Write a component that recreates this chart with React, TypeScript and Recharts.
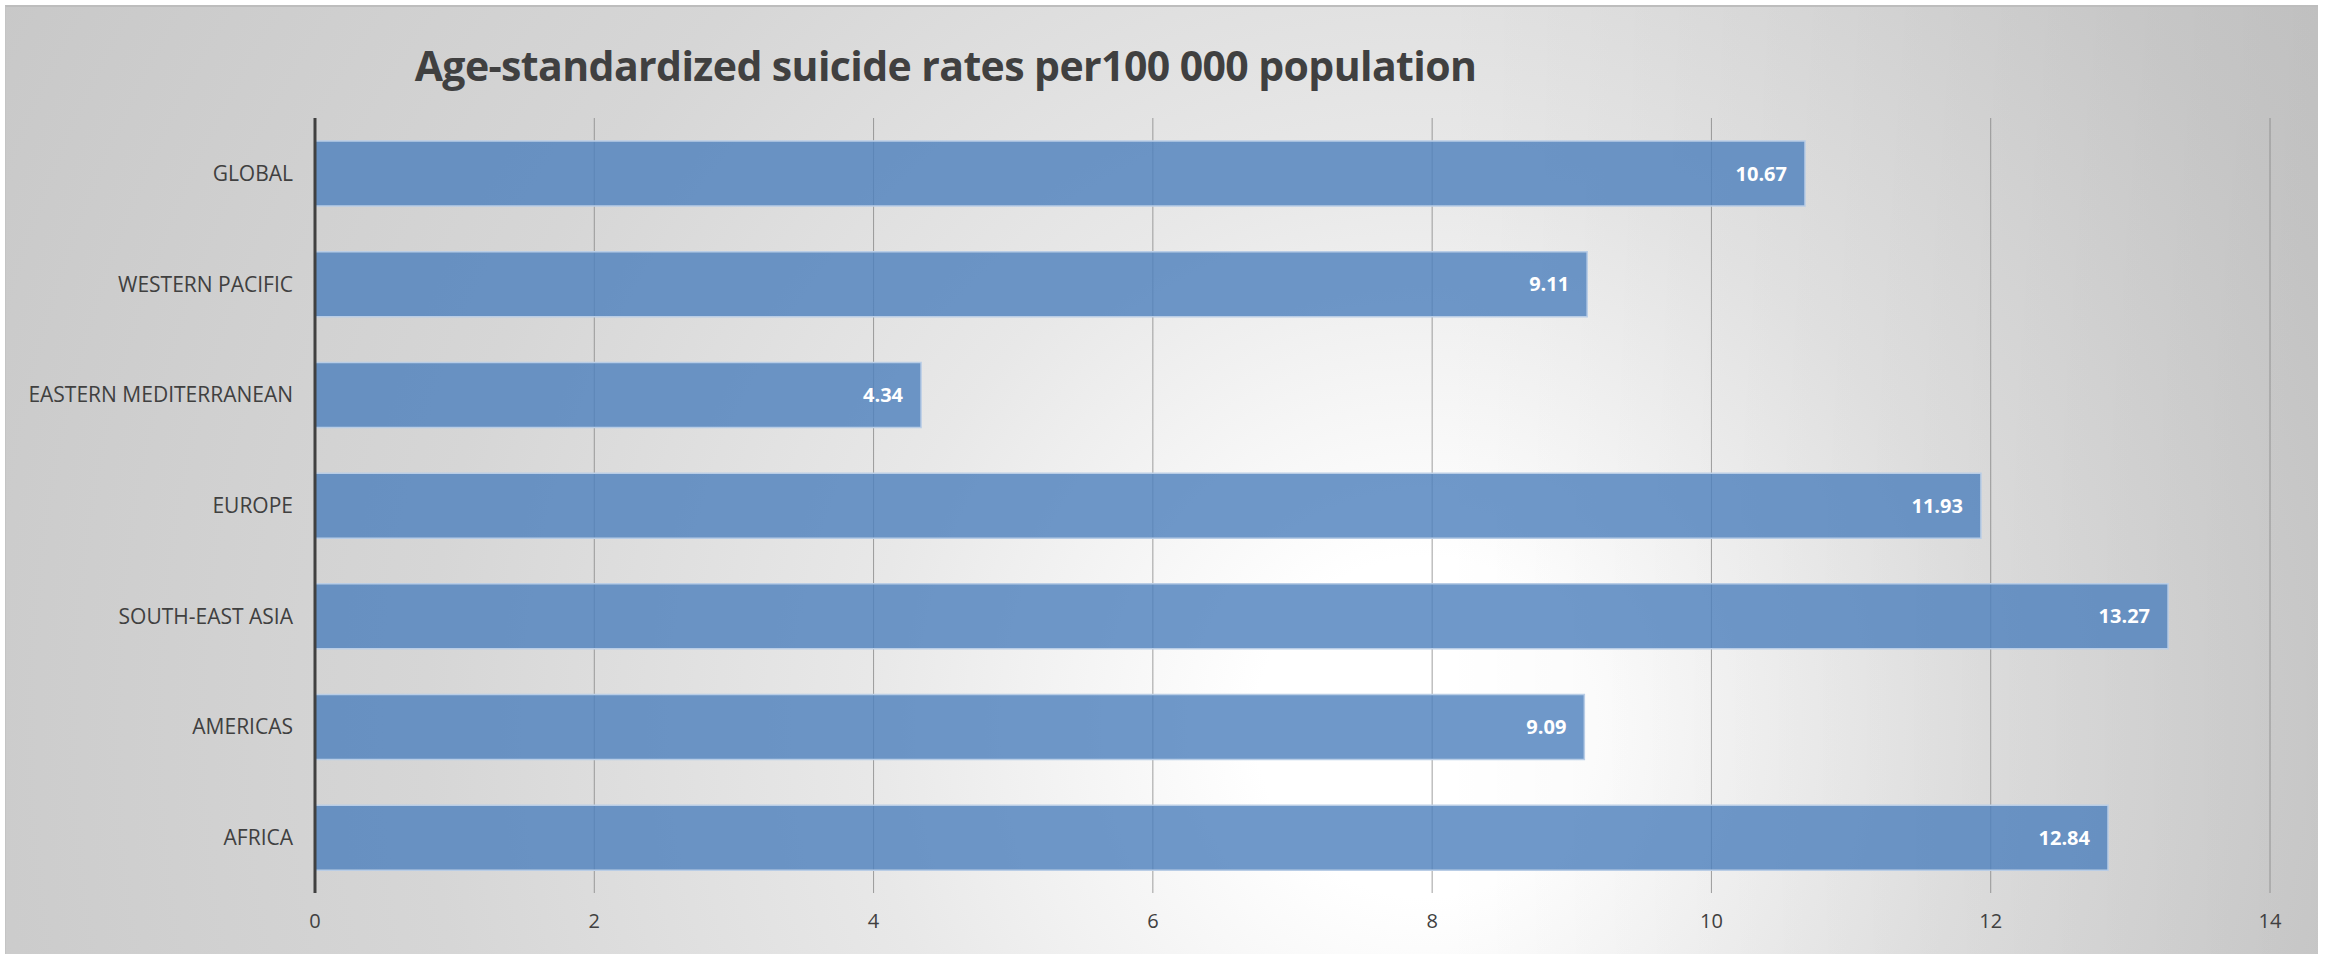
import React from "react";
import {
  BarChart,
  Bar,
  XAxis,
  YAxis,
  CartesianGrid,
  LabelList,
} from "recharts";

// WHO regions, listed top to bottom
const regions = [
  "GLOBAL",
  "WESTERN PACIFIC",
  "EASTERN MEDITERRANEAN",
  "EUROPE",
  "SOUTH-EAST ASIA",
  "AMERICAS",
  "AFRICA",
];

// Age-standardized suicide rates per 100 000 population
const rates = [10.67, 9.11, 4.34, 11.93, 13.27, 9.09, 12.84];

const xTicks = [0, 2, 4, 6, 8, 10, 12, 14];

const title = "Age-standardized suicide rates per100 000 population";

const data = regions.map((name, i) => ({ name, value: rates[i] }));

const FONT = "'Open Sans', 'Noto Sans', sans-serif";
const W = 2313;
const H = 949;

export default function App() {
  return (
    <div
      style={{
        position: "absolute",
        left: 5,
        top: 5,
        width: W,
        height: H,
        boxSizing: "border-box",
        borderTop: "2px solid #bdbdbd",
        borderLeft: "1px solid #c4c4c4",
        background:
          "linear-gradient(to right, rgba(0,0,0,0) 62%, rgba(0,0,0,0.09) 100%), " +
          "radial-gradient(circle at 1420px 720px, #ffffff 0px, #ffffff 170px, #e8e8e8 560px, #d6d6d6 1000px, #c8c8c8 1600px)",
        fontFamily: FONT,
      }}
    >
      <div
        style={{
          position: "absolute",
          left: 0,
          width: "100%",
          top: 30,
          textAlign: "center",
          paddingRight: 433,
          boxSizing: "border-box",
          fontSize: 41,
          fontWeight: 700,
          letterSpacing: -0.6,
          color: "#404040",
          lineHeight: "56px",
          whiteSpace: "nowrap",
        }}
      >
        {title}
      </div>
      <div style={{ position: "absolute", left: -1, top: -2 }}>
        <BarChart
          width={W}
          height={H}
          data={data}
          layout="vertical"
          margin={{ top: 113, right: 48, bottom: 0, left: 0 }}
          barCategoryGap={0}
        >
          <CartesianGrid
            horizontal={false}
            stroke="#808080"
            strokeOpacity={0.75}
          />
          <XAxis
            type="number"
            domain={[0, 14]}
            ticks={xTicks}
            axisLine={false}
            tickLine={false}
            tickSize={6}
            tickMargin={15}
            height={61}
            tick={{ fill: "#404040", fontSize: 20, fontFamily: FONT }}
          />
          <YAxis
            type="category"
            dataKey="name"
            width={310}
            axisLine={{ stroke: "#404040", strokeWidth: 3 }}
            tickLine={false}
            tickSize={6}
            tickMargin={16}
            tick={{ fill: "#404040", fontSize: 21, fontFamily: FONT }}
          />
          <Bar
            dataKey="value"
            barSize={65}
            fill="#4f81bd"
            fillOpacity={0.82}
            stroke="#b9cde6"
            strokeWidth={1.5}
            isAnimationActive={false}
          >
            <LabelList
              dataKey="value"
              position="insideRight"
              offset={18}
              fill="#ffffff"
              fontSize={20}
              fontWeight={700}
              fontFamily={FONT}
            />
          </Bar>
        </BarChart>
      </div>
    </div>
  );
}
